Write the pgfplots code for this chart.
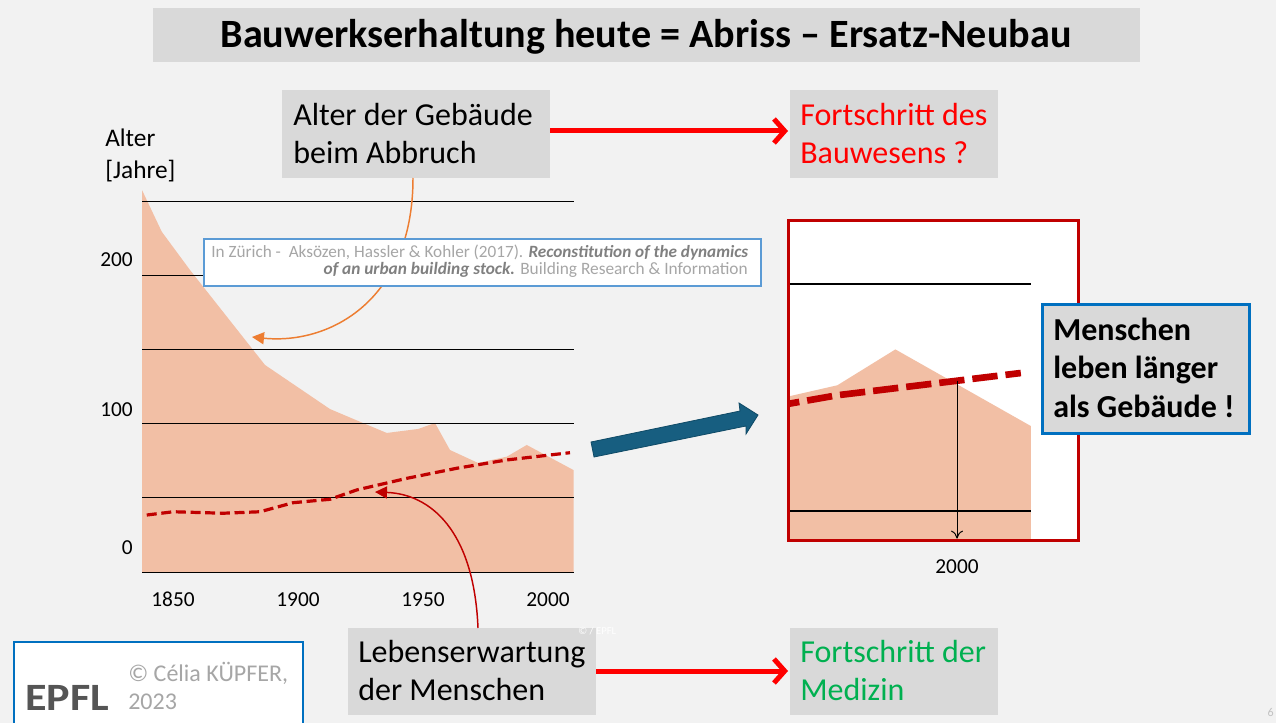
\documentclass[border=0pt]{standalone}
\usepackage{pgfplots}
\pgfplotsset{compat=1.18}
\usepackage{pgfplotstable}
\usetikzlibrary{arrows.meta}
\usepackage{fontspec}
\setmainfont{Carlito}

\definecolor{bg}{HTML}{F2F2F2}
\definecolor{boxgrey}{HTML}{D9D9D9}
\definecolor{salmon}{HTML}{F2BFA5}
\definecolor{darkred}{HTML}{C00000}
\definecolor{pptred}{HTML}{FF0000}
\definecolor{pptgreen}{HTML}{00B050}
\definecolor{pptorange}{HTML}{ED7D31}
\definecolor{pptblue}{HTML}{0070C0}
\definecolor{citeblue}{HTML}{5B9BD5}
\definecolor{arrowblue}{HTML}{175E80}
\definecolor{arrowbluedark}{HTML}{0F4A66}
\definecolor{citegrey}{HTML}{A6A6A6}
\definecolor{citedark}{HTML}{808080}
\definecolor{logogrey}{HTML}{555555}

\newcommand{\sz}[1]{\fontsize{#1}{#1}\selectfont}

% age of buildings at demolition (grid units: gridlines at 0,50,...,250)
\pgfplotstableread{
year age
1837.6 257.4
1845.5 229.3
1856.8 203.5
1886.8 139.5
1912.8 109.8
1926.0 100.4
1935.5 93.7
1948.1 96.4
1954.8 100.4
1960.8 82.2
1972.0 73.5
1983.5 77.7
1991.5 85.6
2010.2 68.7
}\agedata

% life expectancy
\pgfplotstableread{
year life
1839.5 38.4
1850.1 40.6
1870.1 39.6
1884.8 40.6
1898.1 46.7
1912.8 49.0
1923.5 55.3
1943.5 63.1
1963.5 69.9
1983.5 75.5
2008.8 80.4
}\lifedata

\begin{document}
\begin{tikzpicture}
\useasboundingbox (0,0) rectangle (957pt,-542.25pt);
\clip (0,0) rectangle (957pt,-542.25pt);

\begin{scope}[x=0.75pt,y=-0.75pt]
\fill[bg] (0,0) rectangle (1276,723);
% title
\fill[boxgrey] (153,8) rectangle (1140,62);
\node[anchor=base, inner sep=0pt, font=\sz{30.1}\bfseries] at (646,48) {Bauwerkserhaltung heute = Abriss – Ersatz-Neubau};
% boxes top
\fill[boxgrey] (282,90) rectangle (550,178);
\node[anchor=base west, inner sep=0pt, font=\sz{24}] at (293,125.5) {Alter der Gebäude};
\node[anchor=base west, inner sep=0pt, font=\sz{24}] at (293,163.5) {beim Abbruch};
\fill[boxgrey] (790,90) rectangle (998,178);
\node[anchor=base west, inner sep=0pt, font=\sz{24}, text=pptred] at (800,125.5) {Fortschritt des};
\node[anchor=base west, inner sep=0pt, font=\sz{24}, text=pptred] at (800,163.5) {Bauwesens ?};
\draw[pptred, line width=3.75pt, -{Straight Barb[length=8pt,width=18pt]}] (550,131) -- (788,131);
% boxes bottom
\fill[boxgrey] (348,628) rectangle (596,715);
\node[anchor=base west, inner sep=0pt, font=\sz{24}] at (358,662.5) {Lebenserwartung};
\node[anchor=base west, inner sep=0pt, font=\sz{24}] at (358,700.5) {der Menschen};
\fill[boxgrey] (790,628) rectangle (998,715);
\node[anchor=base west, inner sep=0pt, font=\sz{24}, text=pptgreen] at (800,662.5) {Fortschritt der};
\node[anchor=base west, inner sep=0pt, font=\sz{24}, text=pptgreen] at (800,700.5) {Medizin};
\draw[pptred, line width=3.75pt, -{Straight Barb[length=8pt,width=18pt]}] (596,671) -- (788,671);
% y label
\node[anchor=base west, inner sep=0pt, font=\sz{19}] at (105,147) {Alter};
\node[anchor=base west, inner sep=0pt, font=\sz{19}] at (105,179) {[Jahre]};
\end{scope}

% main chart
\begin{axis}[
  at={(106.5pt,-429pt)}, anchor=south west,
  scale only axis, width=324pt, height=289.38pt,
  xmin=1837.6, xmax=2010.4, ymin=0, ymax=260,
  axis line style={draw=none},
  major tick length=0pt,
  xtick={1850,1900,1950,2000}, xticklabels={1850,1900,1950,2000},
  ytick={16.2,109.2,210.2}, yticklabels={0,100,200},
  xticklabel style={anchor=north, inner sep=0pt, yshift=-15pt, font=\sz{16}},
  yticklabel style={anchor=east, inner sep=0pt, xshift=-6.75pt, font=\sz{16}},
  /pgf/number format/assume math mode=true,
  clip=false,
]
\addplot[fill=salmon, draw=none] table[x=year, y=age] {\agedata} \closedcycle;
\pgfplotsinvokeforeach{0,50,100,150,200,250}{
  \draw[black, line width=0.75pt] (axis cs:1837.6,#1) -- (axis cs:2010.4,#1);
}
\addplot[darkred, line width=2.4pt, dash pattern=on 7.5pt off 3.5pt] table[x=year, y=life] {\lifedata};
\end{axis}

\begin{scope}[x=0.75pt,y=-0.75pt]
% orange curved arrow
\draw[pptorange, line width=1.1pt, -{Triangle[length=9pt,width=9pt]}] (413,178) .. controls (413,300) and (330,345) .. (252,337);
% citation box
\filldraw[fill=white, draw=citeblue, line width=1.1pt] (204,239) rectangle (761,286);
\node[anchor=base west, inner sep=0pt, font=\sz{12.9}] at (211,258) {\color{citegrey}In Zürich -\ \ Aksözen, Hassler \& Kohler (2017). \color{citedark}\bfseries\itshape Reconstitution of the dynamics};
\node[anchor=base east, inner sep=0pt, font=\sz{13}] at (748,275) {\color{citedark}\bfseries\itshape of an urban building stock. \color{citegrey}\mdseries\upshape Building Research \& Information};
% dark red curved arrow
\draw[darkred, line width=1.1pt, -{Triangle[length=9pt,width=9pt]}] (478,628) .. controls (474,530) and (430,494) .. (375,492);
% blue block arrow
\filldraw[fill=arrowblue, draw=arrowbluedark, line width=0.6pt] (591,442) -- (740,411) -- (739,403) -- (758,415) -- (746,434) -- (746,426) -- (594,457) -- cycle;
\end{scope}

% inset (zoom around 2000)
\begin{axis}[
  at={(591pt,-405pt)}, anchor=south west,
  scale only axis, width=217.5pt, height=239.25pt,
  xmin=1976.69, xmax=2016.69, ymin=43.6, ymax=113.9,
  axis background/.style={fill=white},
  axis line style={draw=darkred, line width=2.25pt},
  axis on top,
  major tick length=0pt,
  xtick={2000}, xticklabels={2000}, ytick=\empty,
  xticklabel style={anchor=north, inner sep=0pt, yshift=-14.25pt, font=\sz{16}},
  /pgf/number format/assume math mode=true,
]
\addplot[fill=salmon, draw=none] table[x=year, y=age] {\agedata} \closedcycle;
\addplot[black, line width=0.9pt] coordinates {(1976.69,50) (2010.2,50)};
\addplot[black, line width=0.9pt] coordinates {(1976.69,100) (2010.2,100)};
\addplot[darkred, line width=5pt, dash pattern=on 19pt off 6pt] table[x=year, y=life] {\lifedata};
\draw[line width=0.75pt, -{To[length=6pt,width=9pt]}] (axis cs:2000,78.7) -- (axis cs:2000,43.9);
\end{axis}

\begin{scope}[x=0.75pt,y=-0.75pt]
% Menschen box
\filldraw[fill=boxgrey, draw=pptblue, line width=2.25pt] (1042,304) rectangle (1249,433);
\node[anchor=base west, inner sep=0pt, font=\sz{24}\bfseries] at (1053,340) {Menschen};
\node[anchor=base west, inner sep=0pt, font=\sz{24}\bfseries] at (1053,378) {leben länger};
\node[anchor=base west, inner sep=0pt, font=\sz{24}\bfseries] at (1053,417) {als Gebäude !};
% copyright box
\filldraw[fill=white, draw=pptblue, line width=1.1pt] (14,642) rectangle (303,740);
\node[anchor=base west, inner sep=0pt, font=\sz{29}\bfseries, text=logogrey, xscale=1.14] at (25,710) {EPFL};
\node[anchor=base west, inner sep=0pt, font=\sz{18}, text=citegrey] at (128,681) {© Célia KÜPFER,};
\node[anchor=base west, inner sep=0pt, font=\sz{18}, text=citegrey] at (128,709) {2023};
% faint photo credit
\node[anchor=base west, inner sep=0pt, font=\sz{8}, text=white!96!bg] at (578,634) {© / EPFL};
% page number
\node[anchor=base east, inner sep=0pt, font=\sz{9}, text=citegrey!70] at (1274,716) {6};
\end{scope}
\end{tikzpicture}
\end{document}
